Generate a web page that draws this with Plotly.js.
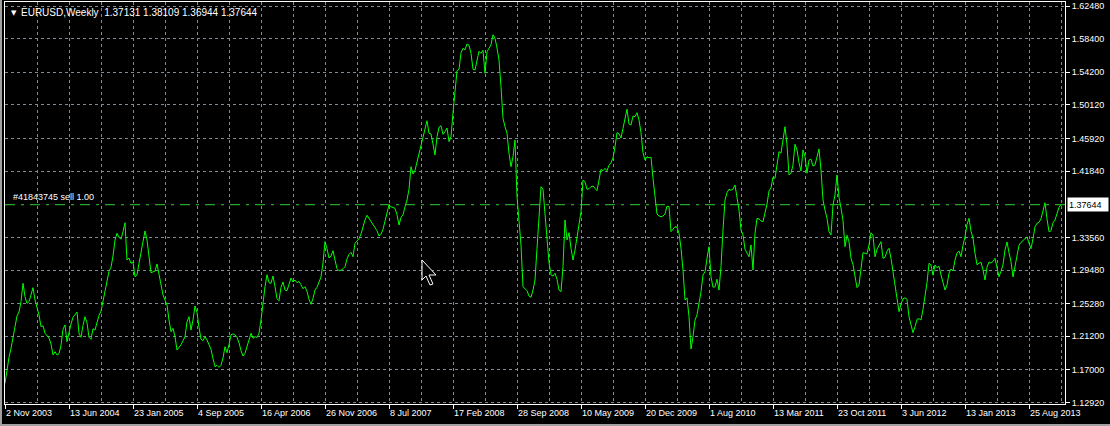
<!DOCTYPE html>
<html>
<head>
<meta charset="utf-8">
<script src="https://cdn.plot.ly/plotly-3.0.1.min.js"></script>
<style>
html,body{margin:0;padding:0;background:#000;overflow:hidden}
#wrap{position:relative;width:1110px;height:426px}
#chart{width:1110px;height:426px}
#frame{position:absolute;left:0;top:0;width:1108px;height:424px;border-left:2px solid #a0a0a0;border-bottom:2px solid #a0a0a0;pointer-events:none}
</style>
</head>
<body>
<div id="wrap"><div id="chart"></div><div id="frame"></div></div>
<script>
// ---- chart text ----
const symbolName = 'EURUSD,Weekly';
const lastBarOHLC = ['1.37131', '1.38109', '1.36944', '1.37644'];
const orderLabel = '#41843745 sell 1.00';
const orderPrice = 1.37644;
const lastPriceText = '1.37644';

// ---- weekly closes, first bar = week of 2 Nov 2003 ----
const firstWeek = '2003-11-02';
const closes2003_04 = [1.1532,1.1719,1.1857,1.1969,1.2094,1.2239,1.2373,1.2423,1.2552,1.2782,
  1.2614,1.2532,1.2552,1.2636,1.2727,1.2573,1.2482,1.2386,1.2239,1.2252,
  1.2157,1.2132,1.2098,1.2023,1.1886,1.1927,1.1886,1.1902,1.2007,1.2207,
  1.2261,1.2052,1.2173,1.2273,1.2357,1.2386,1.2423,1.2157,1.2107,1.2257,
  1.2364,1.2289,1.2107,1.2082,1.2214,1.2198,1.2298,1.2382,1.2432,1.2548,
  1.2698,1.2807];
const closes2004_05 = [1.2932,1.2982,1.3123,1.3323,1.3407,1.3357,1.3332,1.3427,1.3539,1.3073,
  1.3098,1.3032,1.3048,1.2864,1.2886,1.3032,1.3177,1.3302,1.3436,1.3323,
  1.3073,1.2914,1.2925,1.2935,1.3023,1.2886,1.2773,1.2636,1.2573,1.2511,
  1.2323,1.2177,1.2219,1.2114,1.1948,1.1977,1.2014,1.2064,1.2114,1.2302,
  1.2364,1.2198,1.2323,1.2498,1.2414,1.2232,1.2082,1.2064,1.2114,1.2073,
  1.2007,1.1957];
const closes2005_06 = [1.1839,1.1739,1.1757,1.1732,1.1757,1.1848,1.1989,1.1914,1.2014,1.2139,
  1.2150,1.2136,1.2107,1.2039,1.1939,1.1873,1.1907,1.1998,1.2064,1.2157,
  1.2094,1.2114,1.2105,1.2157,1.2323,1.2573,1.2739,1.2889,1.2789,1.2782,
  1.2873,1.2739,1.2589,1.2564,1.2732,1.2798,1.2698,1.2689,1.2773,1.2848,
  1.2798,1.2823,1.2789,1.2805,1.2764,1.2714,1.2739,1.2682,1.2582,1.2519,
  1.2594,1.2698];
const closes2006_07 = [1.2732,1.2798,1.2861,1.3036,1.3302,1.3214,1.3098,1.3123,1.3189,1.3073,
  1.2964,1.2939,1.2945,1.2964,1.2989,1.3086,1.3144,1.3169,1.3114,1.3282,
  1.3307,1.3339,1.3398,1.3498,1.3573,1.3632,1.3594,1.3544,1.3514,1.3482,
  1.3439,1.3373,1.3394,1.3457,1.3552,1.3673,1.3761,1.3739,1.3732,1.3719,
  1.3639,1.3511,1.3607,1.3636,1.3739,1.3823,1.3957,1.4239,1.4148,1.4194,
  1.4298,1.4398];
const closes2007_08 = [1.4511,1.4636,1.4698,1.4814,1.4657,1.4648,1.4523,1.4386,1.4614,1.4732,
  1.4752,1.4644,1.4677,1.4723,1.4552,1.4614,1.4914,1.5198,1.5439,1.5457,
  1.5664,1.5719,1.5700,1.5773,1.5757,1.5657,1.5457,1.5448,1.5557,1.5682,
  1.5657,1.5695,1.5407,1.5677,1.5719,1.5764,1.5889,1.5844,1.5723,1.5573,
  1.5239,1.4844,1.4739,1.4657,1.4407,1.4239,1.4364,1.4573,1.3864,1.3511,
  1.3261,1.2739];
const closes2008_09 = [1.2719,1.2689,1.2623,1.2607,1.2698,1.2823,1.3219,1.3657,1.3989,1.3957,
  1.3657,1.3357,1.3039,1.2889,1.2873,1.2907,1.2832,1.2698,1.2677,1.2989,
  1.3573,1.3323,1.3414,1.3219,1.3073,1.3198,1.3344,1.3532,1.3677,1.4073,
  1.4050,1.3957,1.3964,1.3989,1.3998,1.3969,1.3939,1.4073,1.4207,1.4189,
  1.4219,1.4189,1.4257,1.4289,1.4348,1.4489,1.4664,1.4650,1.4598,1.4719,
  1.4864,1.4957];
const closes2009_10 = [1.4773,1.4761,1.4873,1.4864,1.4914,1.4823,1.4664,1.4414,1.4323,1.4364,
  1.4350,1.4357,1.4094,1.3823,1.3648,1.3623,1.3614,1.3623,1.3648,1.3748,
  1.3739,1.3427,1.3457,1.3489,1.3482,1.3407,1.3219,1.2948,1.2573,1.2600,
  1.2364,1.1960,1.2114,1.2323,1.2386,1.2523,1.2677,1.2886,1.2927,1.3094,
  1.3239,1.2864,1.2732,1.2739,1.2832,1.2698,1.2989,1.3448,1.3823,1.3914,
  1.3957,1.3945];
const closes2010_11 = [1.3960,1.4011,1.3857,1.3698,1.3448,1.3386,1.3207,1.3161,1.3114,1.3261,
  1.2948,1.3407,1.3594,1.3586,1.3561,1.3552,1.3657,1.3773,1.3936,1.3973,
  1.4107,1.4094,1.4261,1.4427,1.4410,1.4602,1.4739,1.4511,1.4136,1.4157,
  1.4261,1.4520,1.4448,1.4289,1.4186,1.4448,1.4364,1.4157,1.4323,1.4332,
  1.4248,1.4261,1.4382,1.4461,1.4198,1.3823,1.3698,1.3594,1.3427,1.3386,
  1.3761,1.3886];
const closes2011_12 = [1.4136,1.3857,1.3723,1.3564,1.3239,1.3382,1.3302,1.3094,1.3014,1.2886,
  1.2727,1.2761,1.2969,1.3164,1.3157,1.3150,1.3261,1.3414,1.3382,1.3114,
  1.3207,1.3264,1.3302,1.3094,1.3107,1.3182,1.3219,1.3094,1.2914,1.2761,
  1.2564,1.2427,1.2523,1.2589,1.2600,1.2582,1.2364,1.2261,1.2164,1.2239,
  1.2332,1.2339,1.2323,1.2457,1.2614,1.2789,1.3032,1.3011,1.2882,1.3011,
  1.2977,1.2994];
const closes2012_13 = [1.2886,1.2794,1.2698,1.2761,1.2907,1.2961,1.2936,1.3073,1.3161,1.3186,
  1.3114,1.3257,1.3364,1.3519,1.3594,1.3432,1.3348,1.3157,1.3014,1.3032,
  1.3044,1.2948,1.2823,1.2982,1.3048,1.3035,1.3055,1.3094,1.2994,1.2864,
  1.2932,1.3014,1.3198,1.3298,1.3164,1.3052,1.2861,1.2989,1.3139,1.3257,
  1.3294,1.3319,1.3344,1.3361,1.3282,1.3214,1.3339,1.3489,1.3532,1.3544,
  1.3589,1.3698];
const closes2013 = [1.3789,1.3586,1.3427,1.3439,1.3539,1.3573,1.3669,1.3732,1.37644];

// ---- price scale (the 1.37760 level is hidden behind the order line / price box) ----
const yTickVals = [1.12920,1.17000,1.21200,1.25280,1.29480,1.33560,1.41840,1.45920,1.50120,1.54200,1.58400,1.62480];
const yTickText = ['1.12920','1.17000','1.21200','1.25280','1.29480','1.33560','1.41840','1.45920','1.50120','1.54200','1.58400','1.62480'];
const yRange = [1.1273, 1.6298];

const closes = [].concat(closes2003_04, closes2004_05, closes2005_06, closes2006_07, closes2007_08,
  closes2008_09, closes2009_10, closes2010_11, closes2011_12, closes2012_13, closes2013);

const DAY = 86400000, WEEK = 7 * DAY;
const t0 = Date.parse(firstWeek + 'T00:00:00Z');
const iso = t => new Date(t).toISOString().slice(0, 10);
const dates = closes.map((_, i) => iso(t0 + i * WEEK));
const visibleBars = 530;

const FONT = 'Liberation Sans, Arial, sans-serif';
const GRID = '#7d8a98';
const GRIDDASH = '3px,3px';

// pixel -> paper helper for the mouse cursor decoration
const L = 5, T = 2, W = 1060, H = 402;
const pp = (x, y) => ((x - L) / W).toFixed(5) + ',' + ((T + H - y) / H).toFixed(5);
const cur = [[0,0],[0,20],[4,16],[8,25],[11,24],[7,15],[14,15]].map(p => [422 + p[0], 260 + p[1]]);
const cursorPath = 'M' + cur.map(p => pp(p[0], p[1])).join('L') + 'Z';

const trace = {
  type: 'scatter', mode: 'lines', x: dates, y: closes,
  line: {color: '#00ff00', width: 1}, hoverinfo: 'skip'
};

const layout = {
  width: 1110, height: 426,
  margin: {l: L, r: 1110 - L - W, t: T, b: 426 - T - H, pad: 0},
  paper_bgcolor: '#000', plot_bgcolor: '#000',
  showlegend: false, hovermode: false,
  font: {family: FONT, size: 9, color: '#fff'},
  xaxis: {
    type: 'date', range: [firstWeek, iso(t0 + visibleBars * WEEK)],
    tick0: firstWeek, dtick: 32 * WEEK, tickformat: '%-d %b %Y',
    ticks: 'outside', ticklen: 4, tickcolor: '#fff', tickwidth: 1,
    ticklabelposition: 'outside right',
    tickfont: {family: FONT, size: 9, color: '#fff'},
    showgrid: true, gridcolor: GRID, griddash: GRIDDASH, gridwidth: 1,
    minor: {tick0: firstWeek, dtick: 16 * WEEK, showgrid: true, gridcolor: GRID, griddash: GRIDDASH, gridwidth: 1, ticks: ''},
    showline: true, linecolor: '#fff', linewidth: 1, mirror: true, zeroline: false, fixedrange: true
  },
  yaxis: {
    side: 'right', range: yRange,
    tickmode: 'array', tickvals: yTickVals, ticktext: yTickText,
    ticks: 'outside', ticklen: 4, tickcolor: '#fff', tickwidth: 1,
    tickfont: {family: FONT, size: 9, color: '#fff'},
    showgrid: true, gridcolor: GRID, griddash: GRIDDASH, gridwidth: 1,
    showline: true, linecolor: '#fff', linewidth: 1, mirror: true, zeroline: false, fixedrange: true
  },
  shapes: [
    {type: 'line', xref: 'paper', x0: 0, x1: 1, yref: 'y', y0: orderPrice, y1: orderPrice,
     line: {color: '#32cd32', width: 1, dash: '10px,6px,3px,6px'}, layer: 'between'},
    {type: 'path', xref: 'paper', yref: 'paper', path: cursorPath,
     fillcolor: '#000', line: {color: '#fff', width: 1}, layer: 'above'}
  ],
  annotations: [
    {xref: 'paper', yref: 'paper', x: (9 - L) / W, y: (T + H - 13) / H, xanchor: 'left', yanchor: 'middle',
     text: '▼', showarrow: false, font: {family: 'DejaVu Sans', size: 7, color: '#fff'}},
    {xref: 'paper', yref: 'paper', x: (19 - L) / W, y: (T + H - 12) / H, xanchor: 'left', yanchor: 'middle',
     text: symbolName + '\u00a0\u00a0' + lastBarOHLC.join('\u00a0'), showarrow: false,
     font: {family: FONT, size: 10, color: '#fff'}},
    {xref: 'paper', yref: 'y', x: (11 - L) / W, y: orderPrice, xanchor: 'left', yanchor: 'bottom', yshift: 1,
     text: orderLabel, showarrow: false, font: {family: FONT, size: 9, color: '#fff'}},
    {xref: 'paper', yref: 'y', x: 1, y: orderPrice, xanchor: 'left', yanchor: 'middle', xshift: 2,
     text: lastPriceText, showarrow: false, bgcolor: '#fff', borderpad: 1, width: 38, height: 11, align: 'left',
     font: {family: FONT, size: 9, color: '#000'}}
  ]
};

Plotly.newPlot('chart', [trace], layout, {displayModeBar: false, staticPlot: true, responsive: false});
</script>
</body>
</html>
